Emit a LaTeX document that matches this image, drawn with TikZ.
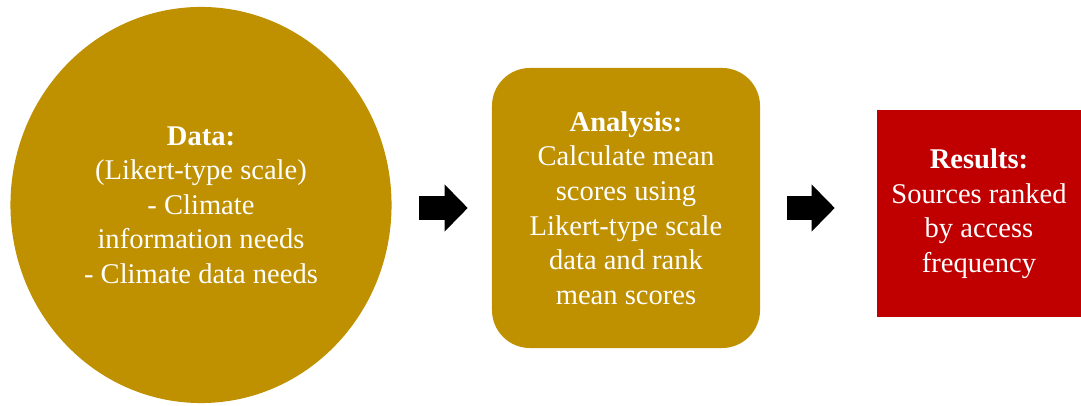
\documentclass[tikz,border=0pt]{standalone}
\usepackage{fontspec}
\setmainfont{Liberation Serif}
\usetikzlibrary{positioning,arrows.meta,shapes.geometric}
\definecolor{gold}{HTML}{BF9000}
\definecolor{darkred}{HTML}{C00000}

\begin{document}
\begin{tikzpicture}[x=0.025cm, y=-0.025cm,
    stage/.style={fill=gold, text=white, inner sep=0pt, align=center, font=\fontsize{20.3}{24.6}\selectfont},
    flow/.style={line width=0.575cm, -{Triangle[length=0.575cm, width=1.175cm, line width=0pt]}}]

\useasboundingbox (0,0) rectangle (1081,406);

\node[stage, ellipse, minimum width=9.525cm, minimum height=9.9cm] (data) at (201,205)
    {\textbf{Data:}\\(Likert-type scale)\\- Climate\\information needs\\- Climate data needs};
\node[stage, rectangle, rounded corners=0.95cm, minimum width=6.7cm, minimum height=7cm] (analysis) at (626,208)
    {\textbf{Analysis:}\\Calculate mean\\scores using\\Likert-type scale\\data and rank\\mean scores};
\node[stage, rectangle, fill=darkred, minimum width=5.1cm, minimum height=5.175cm] (results) at (979,213.5)
    {\textbf{Results:}\\Sources ranked\\by access\\frequency};

\draw[flow, shorten <=0.675cm, shorten >=0.6cm] (data.east |- analysis.west) -- (analysis.west);
\draw[flow, shorten <=0.675cm, shorten >=1.05cm] (analysis.east) -- (analysis.east -| results.west);

\end{tikzpicture}
\end{document}
